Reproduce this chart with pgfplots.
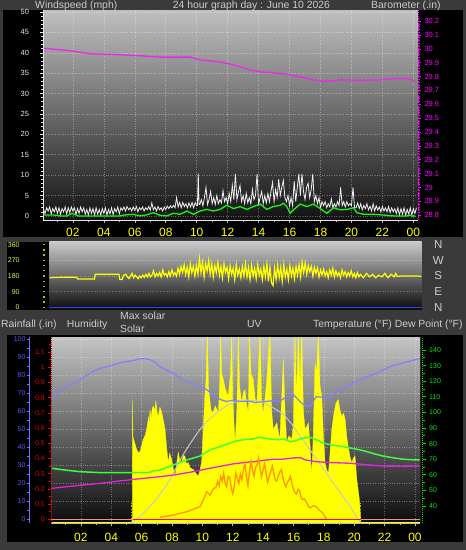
\documentclass[border=0pt]{standalone}
\usepackage{fontspec}
\setmainfont{Liberation Sans}
\usepackage{pgfplots}
\pgfplotsset{compat=1.18}
\definecolor{framebg}{RGB}{58,58,58}
\definecolor{hdr}{RGB}{205,205,205}
\definecolor{windlbl}{RGB}{225,230,255}
\definecolor{baro}{RGB}{235,40,235}
\definecolor{barolbl}{RGB}{255,0,255}
\definecolor{avgwind}{RGB}{20,250,20}
\definecolor{gust}{RGB}{240,240,240}
\definecolor{wdir}{RGB}{255,255,0}
\definecolor{dirlbl}{RGB}{225,250,60}
\definecolor{dirtxt}{RGB}{205,205,205}
\definecolor{tickyel}{RGB}{190,190,30}
\definecolor{bluebase}{RGB}{60,60,255}
\definecolor{hum}{RGB}{128,128,255}
\definecolor{humlbl}{RGB}{90,90,255}
\definecolor{humaxis}{RGB}{110,110,255}
\definecolor{rain}{RGB}{255,0,0}
\definecolor{rainlbl}{RGB}{235,0,0}
\definecolor{rainpink}{RGB}{240,140,140}
\definecolor{temp}{RGB}{60,255,60}
\definecolor{templbl}{RGB}{0,235,0}
\definecolor{dew}{RGB}{230,30,230}
\definecolor{solar}{RGB}{255,255,0}
\definecolor{maxsolar}{RGB}{200,200,200}
\definecolor{uv}{RGB}{255,150,0}
\definecolor{xlbl}{RGB}{255,255,0}
\definecolor{axgrey}{RGB}{190,190,190}
\definecolor{axwhite}{RGB}{230,230,230}
\begin{document}
\begin{tikzpicture}
\fill[framebg] (0,0) rectangle (466pt,550pt);
\fill[black] (3pt,313pt) rectangle (463pt,540pt);
\fill[black] (7pt,240pt) rectangle (421.7pt,308pt);
\fill[black] (7pt,8pt) rectangle (463pt,215pt);
\tikzset{hd/.style={anchor=base west, text=hdr, font=\fontsize{10.4}{12}\selectfont, inner sep=0pt}}
\node[hd] at (35pt,541.5pt) {Windspeed (mph)};
\node[hd] at (172.7pt,541.5pt) {24 hour graph day : June 10 2026};
\node[hd] at (371pt,541.5pt) {Barometer (.in)};
\node[hd] at (1pt,222.5pt) {Rainfall (.in)};
\node[hd] at (66.7pt,222.5pt) {Humidity};
\node[hd] at (120pt,230pt) {Max solar};
\node[hd] at (120pt,217.5pt) {Solar};
\node[hd] at (247pt,222.5pt) {UV};
\node[hd] at (313pt,222.5pt) {Temperature (°F) Dew Point (°F)};

% ================= TOP PANEL: wind speed =================
\begin{axis}[
  at={(43.5pt,330pt)}, anchor=south west, scale only axis,
  width=374.5pt, height=210pt,
  xmin=0.1, xmax=24.3, ymin=-1, ymax=50.5,
  axis background/.style={top color={rgb,255:red,192;green,192;blue,192}, middle color={rgb,255:red,92;green,92;blue,92}, bottom color={rgb,255:red,18;green,18;blue,18}},
  axis x line*=bottom, axis y line*=left,
  axis line style={-, draw=axwhite, line width=0.8pt},
  tick align=outside,
  xtick={2,4,...,24}, xticklabels={02,04,06,08,10,12,14,16,18,20,22,00},
  minor xtick={1,3,...,23},
  ytick={0,5,...,50}, minor ytick={0,1,...,50},
  major tick length=3pt, minor tick length=2pt,
  xtick style={axgrey, line width=0.6pt}, ytick style={axwhite, line width=0.6pt},
  xmajorgrids, ymajorgrids,
  major grid style={draw=white, opacity=0.35, dotted, line width=0.6pt},
  xticklabel style={font=\fontsize{12}{12}\selectfont, text=xlbl, anchor=north, yshift=-2pt},
  yticklabel style={font=\fontsize{7.5}{8}\selectfont, text=windlbl, xshift=-8pt},
  /pgf/number format/assume math mode=true,
  clip=true,
]
\addplot[gust, line width=0.8pt] coordinates {
(0.1,1.6)(0.2,0.6)(0.3,2.0)(0.4,1.2)(0.5,2.2)(0.6,0.5)(0.7,1.8)(0.8,1.0)(0.9,2.2)(1.0,0.6)
(1.1,2.0)(1.2,0.4)(1.3,1.8)(1.4,1.0)(1.5,2.2)(1.6,0.5)(1.7,2.0)(1.8,0.8)(1.9,2.2)(2.0,1.2)
(2.1,2.0)(2.2,0.4)(2.3,1.8)(2.4,0.6)(2.5,2.2)(2.6,1.0)(2.7,2.0)(2.8,0.4)(2.9,1.6)(3.0,0.2)
(3.1,2.0)(3.2,0.6)(3.3,1.8)(3.4,0.2)(3.5,2.0)(3.6,0.4)(3.7,1.6)(3.8,0.2)(3.9,1.8)(4.0,0.6)
(4.1,2.0)(4.2,0.2)(4.3,1.6)(4.4,0.5)(4.5,2.0)(4.6,0.3)(4.7,1.8)(4.8,1.0)(4.9,2.2)(5.0,0.5)
(5.1,2.0)(5.2,1.4)(5.3,2.2)(5.4,1.2)(5.5,2.3)(5.6,1.5)(5.7,2.0)(5.8,1.2)(5.9,2.2)(6.0,1.4)
(6.1,2.3)(6.2,1.0)(6.3,2.0)(6.4,1.5)(6.5,2.2)(6.6,1.2)(6.7,2.0)(6.8,1.5)(6.9,2.3)(7.0,1.4)
(7.1,3.2)(7.2,1.5)(7.3,2.2)(7.4,1.2)(7.5,2.3)(7.6,1.5)(7.7,2.0)(7.8,1.2)(7.9,2.2)(8.0,1.6)
(8.1,2.4)(8.2,1.8)(8.3,2.5)(8.4,2.0)(8.5,2.6)(8.6,2.0)(8.7,4.5)(8.8,2.2)(8.9,3.3)(9.0,2.0)
(9.1,3.3)(9.2,2.3)(9.3,3.0)(9.4,2.0)(9.5,3.2)(9.6,2.2)(9.7,3.3)(9.8,2.0)(9.9,3.3)(10.0,2.5)
(10.05,2.6)(10.1,10.4)(10.15,2.8)
(10.2,2.8)(10.3,4.0)(10.4,2.5)(10.5,4.5)(10.6,7.0)(10.7,2.8)(10.8,4.0)(10.9,6.0)(11.0,3.0)
(11.1,4.5)(11.2,2.8)(11.3,5.0)(11.4,3.0)(11.5,4.0)(11.6,3.2)(11.7,6.2)(11.8,3.5)(11.9,4.5)
(12.0,3.0)(12.1,5.5)(12.2,3.5)(12.3,7.5)(12.4,4.0)(12.5,10.3)(12.6,4.0)(12.7,6.0)(12.8,7.5)
(12.9,3.5)(13.0,5.0)(13.1,3.0)(13.2,5.5)(13.3,3.2)(13.4,4.5)(13.5,3.0)(13.6,6.5)(13.7,4.0)
(13.8,5.0)(13.9,10.3)(14.0,3.0)(14.1,4.5)(14.2,6.0)(14.3,3.0)(14.4,5.0)(14.5,3.2)(14.6,5.5)
(14.7,3.5)(14.8,6.0)(14.9,8.2)(15.0,3.5)(15.1,6.5)(15.2,4.5)(15.3,9.0)(15.4,5.0)(15.5,7.0)
(15.6,8.7)(15.7,4.5)(15.8,3.5)(15.9,5.0)(16.0,2.5)(16.1,4.5)(16.2,2.5)(16.3,8.5)(16.4,3.5)
(16.5,7.0)(16.6,10.3)(16.7,5.0)(16.8,10.3)(16.9,6.0)(17.0,4.0)(17.1,7.0)(17.2,8.0)(17.3,4.5)
(17.4,6.5)(17.5,10.3)(17.6,3.5)(17.7,5.0)(17.8,3.0)(17.9,4.5)(18.0,2.0)(18.1,3.5)(18.2,2.5)
(18.3,3.5)(18.4,2.0)(18.5,3.0)(18.6,2.2)(18.7,4.2)(18.8,2.0)(18.9,3.0)(19.0,2.2)(19.1,3.5)
(19.2,2.5)(19.3,7.0)(19.4,2.5)(19.5,3.5)(19.6,2.2)(19.7,3.5)(19.8,2.5)(19.9,3.0)(20.0,2.5)
(20.1,7.0)(20.2,2.0)
(20.3,2.0)(20.4,3.2)(20.5,1.8)(20.6,3.0)(20.7,1.5)(20.8,2.6)(20.9,1.8)(21.0,3.0)(21.1,1.5)
(21.2,2.4)(21.3,1.2)(21.4,3.0)(21.5,1.2)(21.6,2.5)(21.7,1.4)(21.8,2.2)(21.9,1.0)(22.0,2.3)
(22.1,1.2)(22.2,2.0)(22.3,1.0)(22.4,2.3)(22.5,0.8)(22.6,2.0)(22.7,1.0)(22.8,1.8)(22.9,0.6)
(23.0,2.0)(23.1,0.2)(23.2,1.8)(23.3,0.4)(23.4,2.0)(23.5,0.2)(23.6,1.6)(23.7,0.4)(23.8,2.0)
(23.9,0.2)(24.0,1.8)(24.1,0.6)(24.2,2.0)};
\addplot[avgwind, line width=1.3pt] coordinates {
(0.09,0.25)(0.73,0.25)(1.16,0)(1.60,0)(1.92,0.6)(2.13,0.4)(2.35,0)(3.32,0)(3.75,0)(4.18,0)
(5.04,0)(5.37,0.25)(5.91,0.4)(6.34,0)(6.77,0.25)(7.20,0.8)(7.63,0.15)(8.06,0)(8.50,0.65)
(8.93,0.4)(9.36,1.2)(9.79,0.4)(10.22,1.2)(10.65,1.6)(11.08,1.2)(11.51,1.6)(11.94,2.6)
(12.38,1.8)(12.81,2.3)(13.24,1.6)(13.67,2.3)(14.10,2.9)(14.53,1.6)(14.96,2.3)(15.39,2.6)
(15.61,3.1)(15.82,2.3)(16.04,0.65)(16.26,1.5)(16.69,2.9)(17.12,2.3)(17.55,2.9)(17.98,1.8)
(18.41,0.65)(18.84,2.0)(19.28,1.5)(19.71,1.6)(20.14,2.0)(20.35,0.8)(20.78,0.4)(21.43,0.4)
(22.29,0.15)(22.73,0)(23.59,0)(23.70,0.25)(23.91,0)(24.13,0)};
\end{axis}

% barometer
\begin{axis}[
  at={(43.5pt,330pt)}, anchor=south west, scale only axis,
  width=374.5pt, height=210pt,
  xmin=0.1, xmax=24.3, ymin=28.765, ymax=30.28,
  axis x line=none, axis y line*=right,
  axis line style={-, draw=barolbl, densely dotted, line width=0.8pt},
  tick align=outside,
  ytick={28.8,28.9,29,29.1,29.2,29.3,29.4,29.5,29.6,29.7,29.8,29.9,30,30.1,30.2},
  minor y tick num=4,
  major tick length=3pt, minor tick length=1.5pt,
  ytick style={barolbl, line width=0.6pt},
  yticklabel style={font=\fontsize{7.5}{8}\selectfont, text=barolbl},
  /pgf/number format/fixed,
  /pgf/number format/assume math mode=true,
]
\addplot[baro, line width=1.3pt] coordinates {
(0.13,30.004)(1.81,29.986)(3.1,29.964)(4.4,29.96)(6.34,29.95)(7.63,29.94)(9.58,29.94)
(10.2,29.92)(11.5,29.906)(12.36,29.884)(13.46,29.848)(14.1,29.834)(15.6,29.82)(16.7,29.798)
(17.5,29.776)(18.4,29.765)(19.3,29.776)(20.6,29.773)(21.9,29.776)(22.5,29.783)(23.2,29.786)
(23.8,29.78)(24.1,29.77)};
\end{axis}

% ================= MIDDLE PANEL: wind direction =================
\begin{axis}[
  at={(49.3pt,240pt)}, anchor=south west, scale only axis,
  width=372.4pt, height=68pt,
  xmin=0, xmax=24.3, ymin=-15.5, ymax=375.6,
  axis background/.style={top color={rgb,255:red,202;green,202;blue,202}, middle color={rgb,255:red,96;green,96;blue,96}, bottom color={rgb,255:red,10;green,10;blue,10}},
  axis line style={draw=none},
  xtick=\empty, ytick={90,180,270}, yticklabels={},
  major tick length=0pt,
  ymajorgrids, major grid style={draw=white, opacity=0.3, dotted},
  clip=true,
]
\addplot[bluebase, line width=1.3pt] coordinates {(0,-2) (24.3,-2)};
\addplot[wdir, line width=1.2pt] coordinates {
(0.03,170)(0.5,172)(1.0,173)(1.78,173)(1.85,163)(2.95,163)(3.0,190)(4.55,190)
(4.6,160)(4.75,160)(4.85,185)(5.0,190)(5.1,175)(5.2,165)(5.3,180)(5.4,195)(5.5,170)
(5.6,185)(5.7,175)(5.8,165)(5.9,180)(6.0,170)(6.1,185)(6.2,172)(6.3,190)(6.4,175)
(6.5,195)(6.6,175)(6.7,185)(6.8,210)(6.9,175)(7.0,195)(7.1,180)(7.2,200)(7.3,175)
(7.4,215)(7.5,185)(7.6,195)(7.7,175)(7.8,205)(7.9,180)(8.0,215)(8.1,185)(8.2,200)
(8.3,180)(8.4,225)(8.5,190)(8.6,235)(8.7,200)(8.8,245)(8.9,190)(9.0,230)(9.1,175)
(9.2,250)(9.3,200)(9.4,235)(9.5,180)(9.6,240)(9.7,190)(9.8,280)(9.9,200)(10.0,260)
(10.1,175)(10.2,250)(10.3,210)(10.4,270)(10.5,190)(10.6,250)(10.7,175)(10.8,240)
(10.9,200)(11.0,260)(11.1,185)(11.2,235)(11.3,170)(11.4,250)(11.5,200)(11.6,230)
(11.7,165)(11.8,240)(11.9,190)(12.0,225)(12.1,160)(12.2,245)(12.3,185)(12.4,220)
(12.5,170)(12.6,235)(12.7,180)(12.8,250)(12.9,175)(13.0,230)(13.1,160)(13.2,240)
(13.3,180)(13.4,225)(13.5,165)(13.6,245)(13.7,185)(13.8,220)(13.9,160)(14.0,235)
(14.1,175)(14.2,250)(14.3,150)(14.4,230)(14.5,140)(14.6,125)(14.7,225)(14.8,160)
(14.9,240)(15.0,170)(15.1,230)(15.2,150)(15.3,245)(15.4,175)(15.5,220)(15.6,160)
(15.7,240)(15.8,180)(15.9,225)(16.0,165)(16.1,235)(16.2,185)(16.3,245)(16.4,175)
(16.5,260)(16.6,200)(16.7,255)(16.8,190)(16.9,240)(17.0,205)(17.1,235)(17.2,180)
(17.3,230)(17.4,195)(17.5,225)(17.6,175)(17.7,215)(17.8,185)(17.9,220)(18.0,180)
(18.1,205)(18.2,170)(18.3,215)(18.4,185)(18.5,225)(18.6,175)(18.7,210)(18.8,180)
(18.9,200)(19.0,170)(19.1,215)(19.2,185)(19.3,205)(19.4,175)(19.5,200)(19.6,180)
(19.7,210)(19.8,175)(19.9,195)(20.0,170)(20.1,200)(20.2,175)(20.3,190)(20.5,170)
(20.7,195)(20.9,175)(21.1,190)(21.3,170)(21.5,185)(21.7,175)(21.9,195)(22.1,170)
(22.3,190)(22.5,175)(22.6,195)(22.7,178)(23.0,180)(23.5,180)(24.0,180)(24.25,178)};
\end{axis}
% middle left scale
\begin{axis}[
  at={(44pt,240pt)}, anchor=south west, scale only axis,
  width=1pt, height=68pt, xmin=0, xmax=1, ymin=-15.5, ymax=375.6,
  hide x axis, axis y line=left, axis line style={draw=none},
  ytick={0,90,180,270,360}, minor ytick={30,60,120,150,210,240,300,330},
  tick align=center, major tick length=2.7pt, minor tick length=2.7pt,
  ytick style={tickyel, line width=1.4pt},
  yticklabel style={font=\fontsize{7}{8}\selectfont, text=dirlbl, xshift=-19.5pt},
  /pgf/number format/assume math mode=true,
]
\addplot[draw=none] coordinates {(0.5,0)};
\end{axis}
% middle right compass letters
\begin{axis}[
  at={(49.3pt,240pt)}, anchor=south west, scale only axis,
  width=372.4pt, height=68pt, xmin=0, xmax=24.3, ymin=-15.5, ymax=375.6,
  hide x axis, axis y line*=right, axis line style={draw=none},
  ytick={0,90,180,270,360}, yticklabels={N,E,S,W,N},
  major tick length=0pt,
  yticklabel style={font=\fontsize{11.5}{12}\selectfont, text=dirtxt, anchor=center, xshift=16.5pt},
]
\addplot[draw=none] coordinates {(1,0)};
\end{axis}

% ================= BOTTOM PANEL =================
\begin{axis}[
  at={(51.3pt,27pt)}, anchor=south west, scale only axis,
  width=368.7pt, height=186pt,
  xmin=0.05, xmax=24.33, ymin=-2.2, ymax=101.1,
  axis background/.style={top color={rgb,255:red,196;green,196;blue,196}, middle color={rgb,255:red,85;green,85;blue,85}, bottom color={rgb,255:red,12;green,12;blue,12}},
  axis line style={draw=none},
  xtick={2,4,...,24}, xticklabels={}, ytick={10,20,...,100}, yticklabels={},
  major tick length=0pt,
  xmajorgrids, ymajorgrids, major grid style={draw=white, opacity=0.35, dotted},
]
\addplot[draw=none] coordinates {(1,50)};
\end{axis}
% solar
\begin{axis}[
  at={(51.3pt,27pt)}, anchor=south west, scale only axis,
  width=368.7pt, height=186pt,
  xmin=0.05, xmax=24.33, ymin=-4, ymax=1496, hide axis, clip=true,
]
\addplot[fill=solar, draw=solar, line width=0.3pt] coordinates {
(0.05,0)(5.38,0)(5.40,990)(5.43,690)(5.55,640)(5.67,589)(5.80,560)(5.90,575)(6.00,620)
(6.10,669)(6.22,700)(6.33,750)(6.45,850)(6.50,790)(6.55,911)(6.62,840)(6.70,920)(6.77,938)
(6.86,900)(6.94,978)(7.02,880)(7.10,857)(7.20,930)(7.30,898)(7.42,830)(7.54,750)(7.65,600)
(7.75,484)(7.85,560)(7.97,508)(8.08,440)(8.20,373)(8.30,470)(8.41,565)(8.52,500)(8.63,484)
(8.75,540)(8.85,535)(8.95,470)(9.07,484)(9.20,440)(9.40,427)(9.55,400)(9.73,373)(9.85,430)
(9.95,484)(10.06,750)(10.15,1000)(10.24,1153)(10.33,1550)(10.40,1100)(10.46,1018)(10.58,900)
(10.70,887)(10.85,940)(11.05,887)(11.14,1100)(11.20,1550)(11.27,1200)(11.38,1153)(11.50,1080)
(11.70,1018)(11.85,1200)(11.93,1550)(12.00,1000)(12.15,645)(12.27,900)(12.37,1550)(12.45,1100)
(12.59,968)(12.70,1050)(12.81,1073)(12.92,950)(13.03,887)(13.10,1550)(13.20,1200)(13.35,1153)
(13.47,1000)(13.58,938)(13.80,1550)(13.90,1000)(14.00,884)(14.12,1000)(14.24,1153)(14.45,1550)
(14.56,900)(14.67,750)(14.90,804)(15.10,669)(15.33,1315)(15.44,900)(15.55,643)(15.70,700)
(15.88,669)(16.00,800)(16.10,1550)(16.20,1000)(16.32,1550)(16.43,1100)(16.54,1550)(16.65,900)
(16.76,750)(16.98,804)(17.10,600)(17.20,373)(17.30,700)(17.42,1288)(17.52,1200)(17.63,1550)
(17.75,1100)(17.86,1018)(17.97,700)(18.08,481)(18.20,420)(18.30,401)(18.40,550)(18.52,750)
(18.65,870)(18.80,965)(18.95,992)(19.07,900)(19.18,857)(19.30,880)(19.40,831)(19.50,700)
(19.60,615)(19.72,530)(19.84,481)(19.95,520)(20.05,535)(20.17,347)(20.34,185)(20.42,40)
(20.44,0)(24.33,0)} \closedcycle;
\addplot[solar, line width=1.5pt] coordinates {(0.05,0) (24.33,0)};
\addplot[maxsolar, line width=1pt, smooth] coordinates {
(5.34,0)(5.9,50)(6.55,131)(7.1,210)(7.65,306)(8.2,425)(8.74,548)(9.3,655)(9.84,750)
(10.4,825)(10.94,885)(11.5,935)(12.04,966)(12.7,987)(13.2,985)(13.8,978)(14.24,952)
(14.8,915)(15.33,871)(15.9,790)(16.43,696)(17.0,600)(17.53,508)(18.1,410)(18.6,320)
(19.2,220)(19.72,131)(20.1,55)(20.4,0)};
\addplot[tickyel, line width=1.2pt, dotted] coordinates {(5.34,0) (5.34,160)};
\addplot[tickyel, line width=1.2pt, dotted] coordinates {(20.43,0) (20.43,160)};
\end{axis}
% humidity line
\begin{axis}[
  at={(51.3pt,27pt)}, anchor=south west, scale only axis,
  width=368.7pt, height=186pt,
  xmin=0.05, xmax=24.33, ymin=-2.2, ymax=101.1, hide axis, clip=true,
]
\addplot[hum, line width=1.2pt] coordinates {
(0.07,66)(0.62,72)(1.28,74.6)(1.94,77.4)(2.6,81)(3.25,83.7)(3.9,85)(4.57,86.8)(5.44,88)
(5.9,89)(6.2,89)(6.55,88.5)(6.9,87)(7.2,84.6)(7.6,83)(8.07,81)(8.7,77.4)(9.3,75.5)
(9.84,73.5)(10.3,71.8)(10.94,67.4)(11.3,66)(11.6,65.3)(12.0,66)(12.48,65.3)(13.1,65.5)
(13.5,64.6)(13.8,65)(14.2,65.3)(14.65,65.8)(15.0,65.2)(15.3,66.5)(15.55,68)(16.0,69)
(16.43,65.3)(16.65,63.5)(17.1,62.6)(17.5,68)(18.0,67.5)(18.4,67.2)(18.85,70.9)(19.7,74.6)
(20.6,78.3)(21.5,81)(22.36,84.7)(23.2,86.6)(24.1,88.7)(24.3,89)};
\end{axis}
% temperature and dew point
\begin{axis}[
  at={(51.3pt,27pt)}, anchor=south west, scale only axis,
  width=368.7pt, height=186pt,
  xmin=0.05, xmax=24.33, ymin=29.1, ymax=148.33, hide axis, clip=true,
]
\addplot[temp, line width=1.5pt] coordinates {
(0.07,64.2)(1.0,63)(1.94,62)(3.25,61.4)(4.5,61.4)(5.9,61.4)(6.55,61.5)(6.75,62.5)(7.2,63)
(8.08,66.3)(8.97,69.5)(9.84,72)(10.5,76)(11.16,78)(12.04,81.2)(12.7,82.5)(13.35,83)
(13.8,84)(14.4,83)(14.9,82.5)(15.4,82.8)(15.8,81.2)(16.2,82)(16.6,83.5)(17.1,84)(17.5,82.5)
(18.0,80.2)(18.6,79)(19.3,78)(20.0,76.7)(20.6,75.5)(21.3,73.5)(21.9,72)(22.5,71)(23.2,70)
(24.1,69.5)(24.3,69.5)};
\addplot[dew, line width=1.3pt] coordinates {
(0.07,51.3)(1.5,52.8)(3.25,54.5)(4.5,56)(5.9,57.5)(7.2,58.8)(8.2,60)(9.4,62)(10.5,64.2)
(11.2,65.5)(12.04,67)(12.7,67.8)(13.35,68.4)(14.0,69.2)(14.67,70)(15.3,70)(16.0,70.8)
(16.43,71)(16.8,69.5)(17.5,68.4)(18.5,67.8)(19.7,67.4)(20.8,66.5)(21.9,65.6)(23.0,65.5)
(24.1,65.6)(24.3,65.6)};
\end{axis}
% UV
\begin{axis}[
  at={(51.3pt,27pt)}, anchor=south west, scale only axis,
  width=368.7pt, height=186pt,
  xmin=0.05, xmax=24.33, ymin=0, ymax=16, hide axis, clip=true,
]
\addplot[uv, line width=1.3pt] coordinates {
(7.2,0.49)(8.08,0.69)(8.97,0.97)(9.84,1.4)(10.06,1.98)(10.28,2.7)(10.5,2.41)(10.7,2.9)
(10.9,3.1)(11.0,3.6)(11.1,3.2)(11.2,4.0)(11.3,3.6)(11.4,4.3)(11.5,3.4)(11.6,3.1)(11.7,4.0)
(11.8,3.9)(11.9,3.0)(12.0,2.5)(12.1,3.2)(12.2,4.3)(12.3,3.8)(12.4,3.4)(12.5,4.2)(12.6,3.7)
(12.7,4.6)(12.8,5.1)(12.9,4.0)(13.0,3.2)(13.1,4.4)(13.2,5.3)(13.3,4.6)(13.4,4.0)(13.5,4.8)
(13.6,5.0)(13.7,5.6)(13.8,4.7)(13.9,4.0)(14.0,4.6)(14.1,5.1)(14.2,4.2)(14.3,3.5)(14.4,4.0)
(14.5,4.4)(14.6,4.9)(14.7,4.3)(14.8,3.7)(14.9,3.6)(15.0,4.1)(15.1,4.4)(15.2,4.6)(15.3,3.9)
(15.4,3.4)(15.5,3.1)(15.6,3.5)(15.7,3.7)(15.8,4.0)(15.9,3.4)(16.0,2.9)(16.1,2.6)(16.2,2.5)
(16.3,2.9)(16.4,2.8)(16.5,2.2)(16.6,2.0)(16.7,2.1)(16.8,1.9)(17.0,1.4)(17.1,1.3)(17.3,1.5)
(17.5,1.4)(17.7,1.1)(17.9,0.9)(18.08,0.54)(18.2,0.26)};
\end{axis}
% rain axis + x axis
\begin{axis}[
  at={(51.3pt,27pt)}, anchor=south west, scale only axis,
  width=368.7pt, height=186pt,
  xmin=0.05, xmax=24.33, ymin=-0.0243, ymax=1.199,
  axis x line*=bottom, axis y line*=left,
  x axis line style={-, draw=axgrey, line width=0.5pt},
  y axis line style={-, draw=rain, densely dotted, line width=1pt},
  tick align=outside,
  xtick={2,4,...,24}, xticklabels={02,04,06,08,10,12,14,16,18,20,22,00},
  minor xtick={1,3,...,23},
  ytick={0,0.1,0.2,0.3,0.4,0.5,0.6,0.7,0.8,0.9,1,1.1,1.2},
  minor y tick num=1,
  major tick length=3pt, minor tick length=2pt,
  xtick style={axgrey, line width=0.6pt}, ytick style={rain, line width=0.7pt},
  xticklabel style={font=\fontsize{12}{12}\selectfont, text=xlbl, anchor=north, yshift=-4pt},
  yticklabel style={font=\fontsize{7}{8}\selectfont, text=rainlbl},
  /pgf/number format/fixed,
  /pgf/number format/assume math mode=true,
  clip=true,
]
\addplot[rainpink, line width=1.6pt] coordinates {(0.05,0) (24.33,0)};
\addplot[rain, line width=1.6pt] coordinates {(5.4,0) (20.43,0)};
\draw[axgrey, line width=0.8pt] (rel axis cs:1,0) -- (rel axis cs:1,1);
\end{axis}
% humidity scale (offset)
\begin{axis}[
  at={(29.5pt,27pt)}, anchor=south west, scale only axis,
  width=1pt, height=186pt, xmin=0, xmax=1, ymin=-2.2, ymax=101.1,
  hide x axis, axis y line=left, axis line style={-, draw=humaxis, line width=1.3pt},
  tick align=outside, ytick={0,10,...,100}, minor y tick num=1,
  major tick length=3pt, minor tick length=3pt,
  ytick style={humaxis, line width=0.8pt},
  yticklabel style={font=\fontsize{7}{8}\selectfont, text=humlbl, xshift=2.5pt},
  /pgf/number format/assume math mode=true,
]
\addplot[draw=none] coordinates {(0.5,50)};
\end{axis}
% temperature scale (offset)
\begin{axis}[
  at={(421.7pt,27pt)}, anchor=south west, scale only axis,
  width=1pt, height=186pt, xmin=0, xmax=1, ymin=29.1, ymax=148.33,
  hide x axis, axis y line=right, axis line style={-, draw=templbl, densely dotted, line width=1pt},
  tick align=outside, ytick={40,50,...,140}, minor y tick num=1,
  major tick length=3pt, minor tick length=2pt,
  ytick style={templbl, line width=0.8pt},
  yticklabel style={font=\fontsize{7}{8}\selectfont, text=templbl},
  /pgf/number format/assume math mode=true,
]
\addplot[draw=none] coordinates {(0.5,50)};
\end{axis}
\pgfresetboundingbox
\path[use as bounding box] (0,0) rectangle (466pt,550pt);
\end{tikzpicture}
\end{document}
